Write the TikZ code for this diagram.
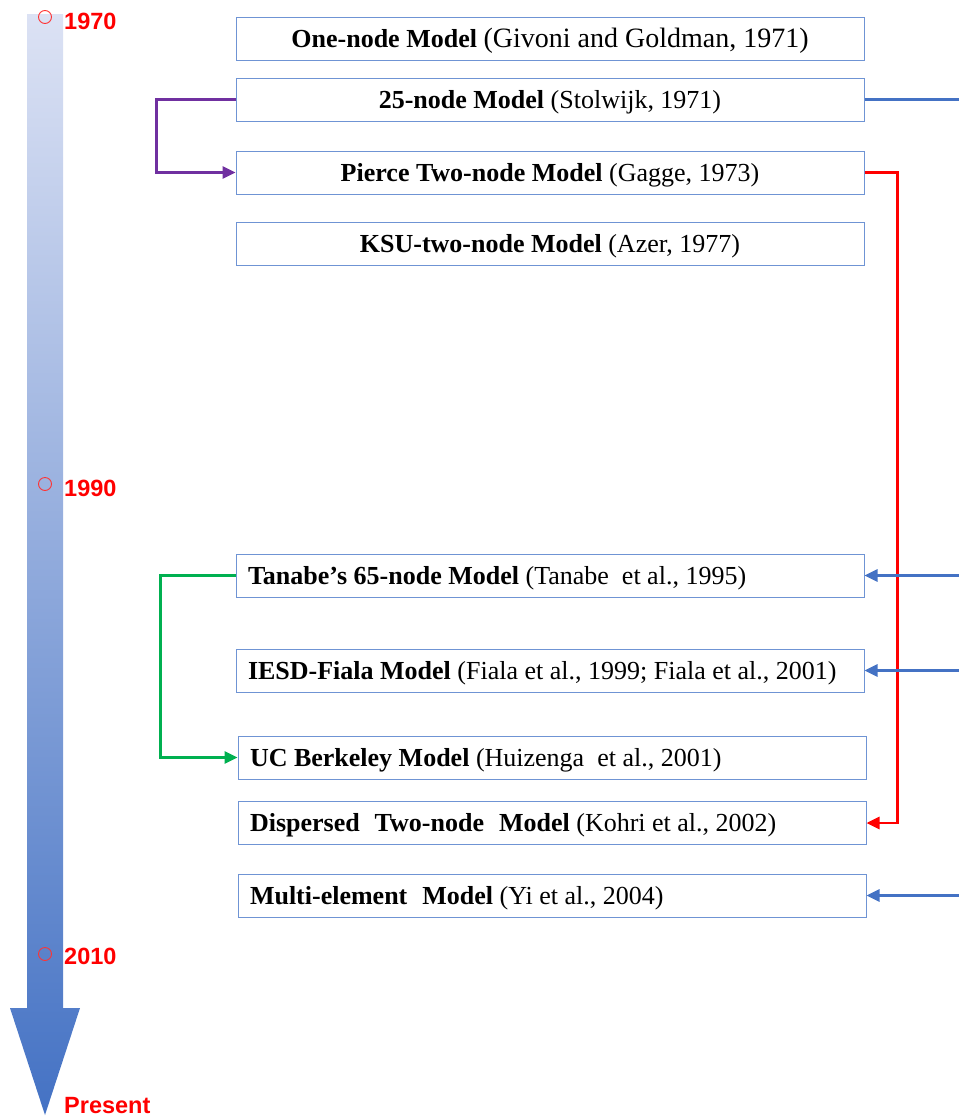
\documentclass[tikz,border=0pt]{standalone}
\usepackage{fontspec}
\usepackage{xcolor}
\usetikzlibrary{arrows.meta}
\setmainfont{Liberation Serif}
\newfontfamily\yearfont{Liberation Sans}
\definecolor{boxblue}{HTML}{6F94D4}
\definecolor{lineblue}{HTML}{4472C4}
\definecolor{arrowtop}{HTML}{DCE2F4}
\definecolor{arrowbot}{HTML}{4472C4}
\definecolor{linkpurple}{HTML}{7030A0}
\definecolor{linkgreen}{HTML}{00B050}
\newcommand{\lefttext}[1]{\makebox[604pt][l]{#1}}
\newcommand{\wgap}{\hspace{15pt}}

\begin{document}
\begin{tikzpicture}[x=1pt,y=-1pt]
    \tikzstyle{every node}=[font=\fontsize{26}{30}\selectfont]
    \tikzstyle{model}=[draw=boxblue, line width=1pt, minimum width=628pt, minimum height=43pt, inner sep=0pt, text height=20pt, text depth=3pt]
    \tikzstyle{year}=[anchor=west, inner sep=0pt, text=red, font=\yearfont\bfseries\fontsize{23.5}{26}\selectfont]
    \tikzstyle{link}=[line width=2.8pt]
    \tikzstyle{tip}=[-{Triangle[length=13pt,width=12pt]}]
    \useasboundingbox (0,0) rectangle (959,1120);
    % timeline arrow
    \shade [top color=arrowtop, bottom color=arrowbot] (27,14) -- (63,14) -- (63,1008) -- (80,1008) -- (45,1115) -- (10,1008) -- (27,1008) -- cycle;
    \draw [red!80, line width=0.9pt] (45,17) circle (6.5pt);
    \draw [red!80, line width=0.9pt] (45,484) circle (6.5pt);
    \draw [red!80, line width=0.9pt] (45,954) circle (6.5pt);
    \node [year] (y1970) at (64,21) {1970};
    \node [year] (y1990) at (64,488) {1990};
    \node [year] (y2010) at (64,956) {2010};
    \node [year] (ynow) at (64,1106) {Present};
    % models
    \node [model] (onenode) at (550,38.5) {\textbf{One-node Model} {\fontsize{28}{30}\selectfont (Givoni and Goldman, 1971)}};
    \node [model] (m25) at (550,99.5) {\textbf{25-node Model} (Stolwijk, 1971)};
    \node [model] (pierce) at (550,172.5) {\textbf{Pierce Two-node Model} (Gagge, 1973)};
    \node [model] (ksu) at (550,243.5) {\textbf{KSU-two-node Model} (Azer, 1977)};
    \node [model] (tanabe) at (550,575.5) {\lefttext{\textbf{Tanabe’s 65-node Model} (Tanabe\ \ et al., 1995)}};
    \node [model] (iesd) at (550,670.5) {\lefttext{\textbf{IESD-Fiala Model} (Fiala et al., 1999; Fiala et al., 2001)}};
    \node [model] (ucb) at (552,757.5) {\lefttext{\textbf{UC Berkeley Model} (Huizenga\ \ et al., 2001)}};
    \node [model] (dispersed) at (552,823) {\lefttext{\textbf{Dispersed\wgap Two-node\wgap Model} (Kohri et al., 2002)}};
    \node [model] (multi) at (552,895.5) {\lefttext{\textbf{Multi-element\wgap Model} (Yi et al., 2004)}};
    % free ends at the right edge
    \coordinate (r25) at (959,99.5);
    \coordinate (rtanabe) at (959,575.5);
    \coordinate (riesd) at (959,670.5);
    \coordinate (rmulti) at (959,895.5);
    % connectors
    \draw [link, tip, linkpurple] (m25.west) -- ++(-79,0) |- (pierce.west);
    \draw [link, tip, linkgreen] (tanabe.west) -- ++(-75,0) |- (ucb.west);
    \draw [link, tip, red] (pierce.east) -- ++(33,0) |- (dispersed.east);
    \draw [link, lineblue] (m25.east) -- (r25);
    \draw [link, tip, lineblue] (rtanabe) -- (tanabe.east);
    \draw [link, tip, lineblue] (riesd) -- (iesd.east);
    \draw [link, tip, lineblue] (rmulti) -- (multi.east);
\end{tikzpicture}
\end{document}
